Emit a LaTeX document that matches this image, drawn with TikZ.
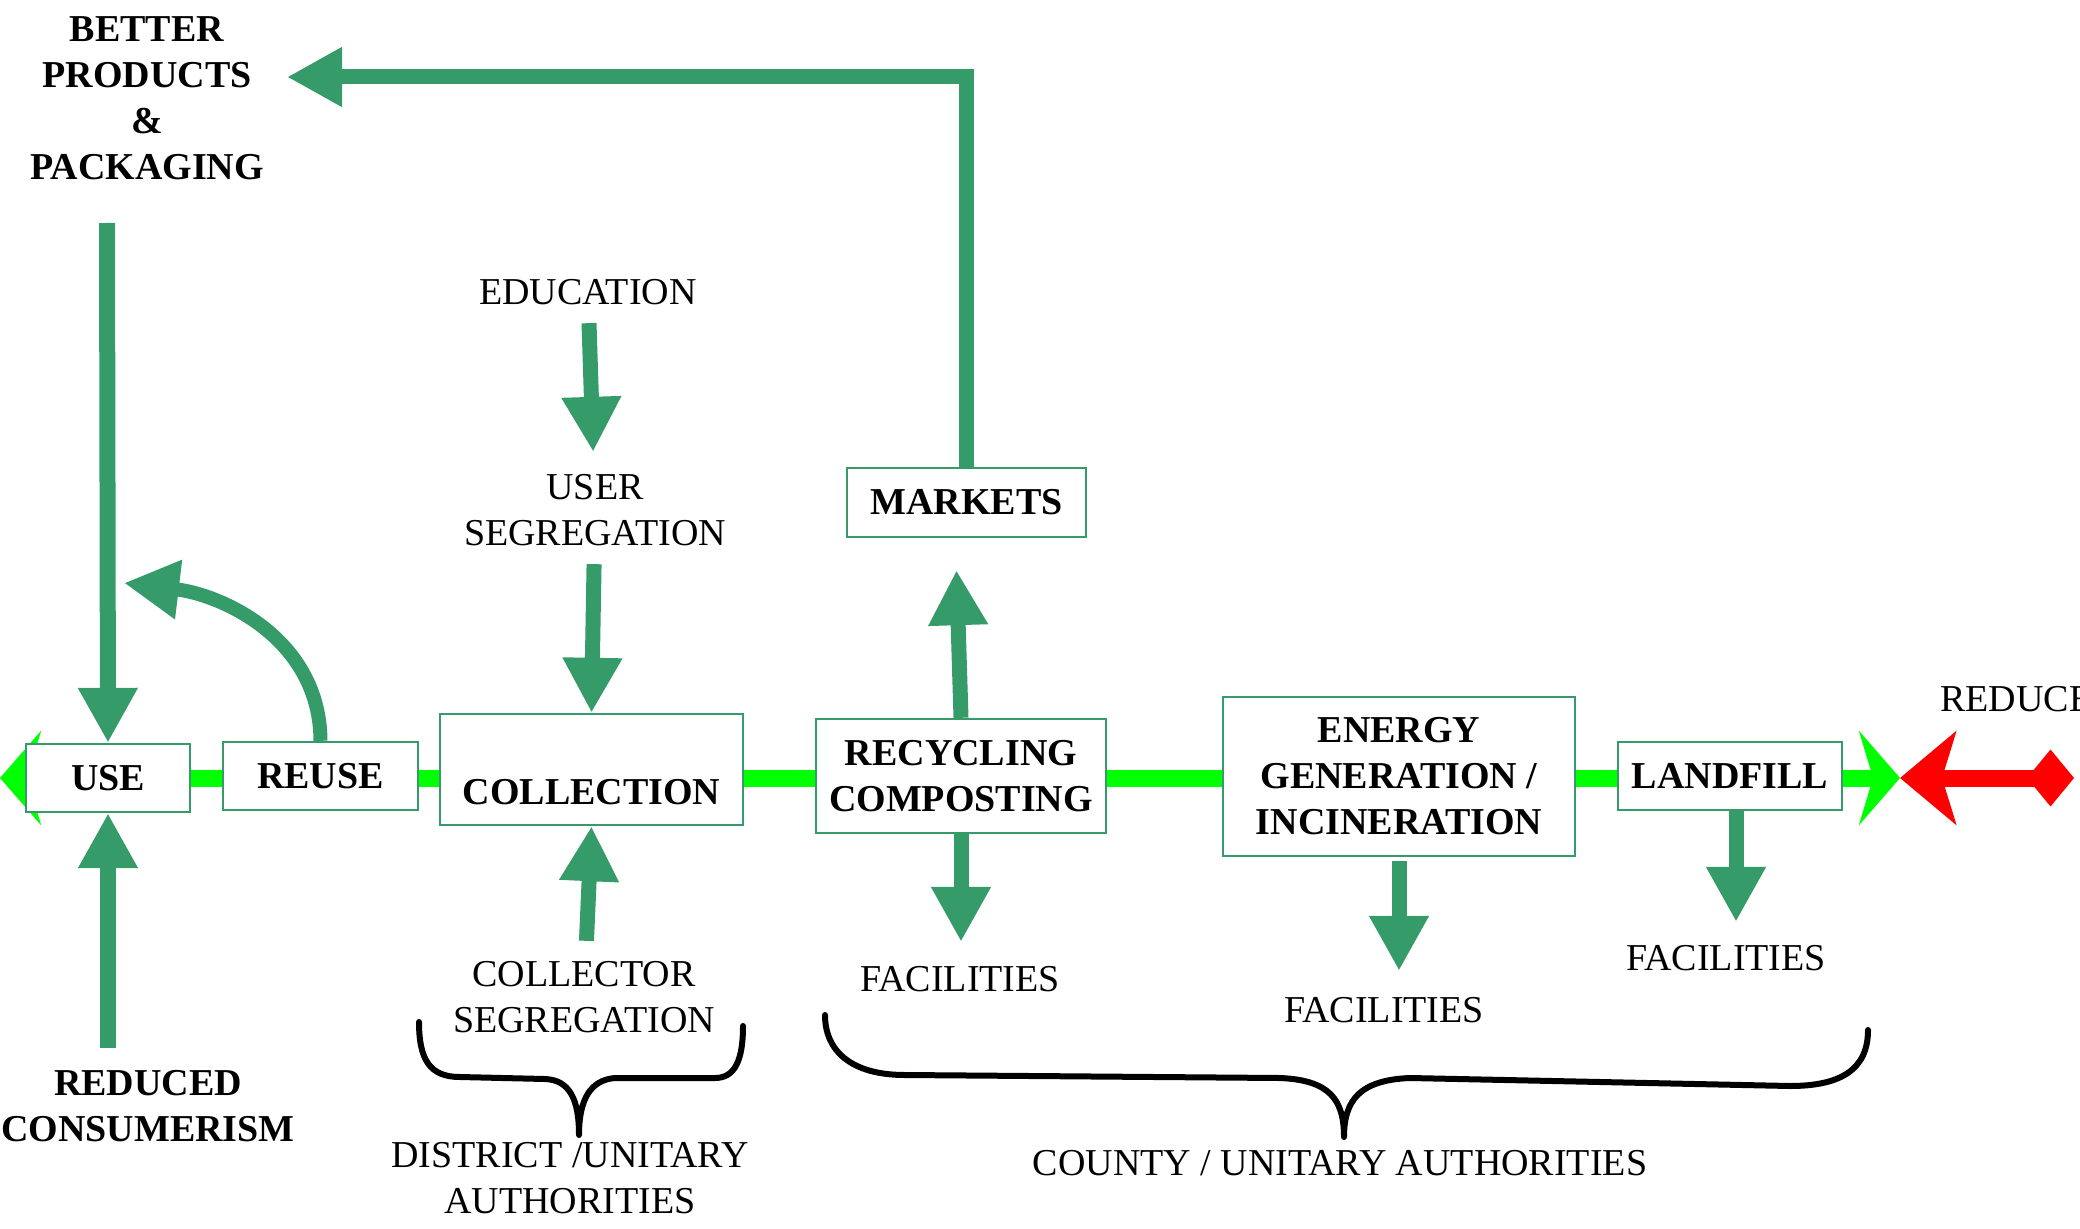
\documentclass[tikz,border=0pt]{standalone}
\usepackage{fontspec}
\setmainfont{Liberation Serif}
\usetikzlibrary{arrows.meta, positioning}
\definecolor{flowgreen}{RGB}{53,155,104}
\definecolor{pathgreen}{RGB}{0,255,0}
\definecolor{reducered}{RGB}{255,0,0}

\tikzset{
  stagebox/.style={draw=flowgreen, line width=1.2pt, fill=white, inner sep=0pt, align=center,
    font=\fontsize{19}{23}\selectfont\bfseries},
  plainlabel/.style={align=center, inner sep=0pt, font=\fontsize{19}{23}\selectfont},
  boldlabel/.style={align=center, inner sep=0pt, font=\fontsize{19}{23}\selectfont\bfseries},
  feedarrow/.style={draw=flowgreen, line width=7.5pt, -{Triangle[length=27.5pt, width=28pt]}},
  authbrace/.style={draw=black, line width=3pt, line cap=round, line join=round},
}

\begin{document}
\begin{tikzpicture}[x=0.5pt, y=-0.5pt]
  \useasboundingbox (0,0) rectangle (2080,1229);

  % main flow line, drawn first so the boxes sit on top of it
  \coordinate (flowstart) at (0,778);
  \coordinate (flowend) at (1900,778);
  \draw[pathgreen, line width=8.5pt,
    {Stealth[length=20.5pt, width=47pt, inset=7pt]}-{Stealth[length=20.5pt, width=47pt, inset=7pt]}]
    (flowstart) -- (flowend);

  % stages
  \node[stagebox, minimum width=82pt, minimum height=34pt] (use) at (108,778) {USE};
  \node[stagebox, minimum width=97.5pt, minimum height=34pt] (reuse) at (320.5,776) {REUSE};
  \node[stagebox, minimum width=151.5pt, text height=45.25pt, text depth=10.25pt] (coll) at (591.5,769.5) {COLLECTION};
  \node[stagebox, minimum width=145pt, minimum height=57pt] (recyc) at (961,776) {RECYCLING\\COMPOSTING};
  \node[stagebox, minimum width=119.5pt, minimum height=34.5pt] (markets) at (966.5,502.5) {MARKETS};
  \node[stagebox, minimum width=176pt, minimum height=79.5pt] (energy) at (1399,776.5) {ENERGY\\GENERATION /\\INCINERATION};
  \node[stagebox, minimum width=112pt, minimum height=34pt] (landfill) at (1730,776) {LANDFILL};

  % labels
  \node[boldlabel] (better) at (147,98.5) {BETTER\\PRODUCTS\\\&\\PACKAGING};
  \node[boldlabel] (consumer) at (148,1106) {REDUCED\\CONSUMERISM};
  \node[plainlabel] (edu) at (588,292) {EDUCATION};
  \node[plainlabel] (userseg) at (595,510) {USER\\SEGREGATION};
  \node[plainlabel] (collseg) at (584,997) {COLLECTOR\\SEGREGATION};
  \node[plainlabel] (district) at (570,1178) {DISTRICT /UNITARY\\AUTHORITIES};
  \node[plainlabel] (facrecyc) at (960,979) {FACILITIES};
  \node[plainlabel] (facenergy) at (1384,1010) {FACILITIES};
  \node[plainlabel] (faclandfill) at (1726,958) {FACILITIES};
  \node[plainlabel] (county) at (1340,1163) {COUNTY / UNITARY AUTHORITIES};
  \node[plainlabel, anchor=west] (reduce) at (1940,699) {REDUCE};

  % arrows into use
  \coordinate (usetop) at (107,223);
  \coordinate (usebottom) at (108,1048);
  \draw[feedarrow, line width=8pt] (usetop) -- (use.north);
  \draw[feedarrow, line width=8pt] (usebottom) -- (use.south);
  \coordinate (reusetip) at (124,583);
  \draw[feedarrow, line width=7pt] (reuse.north) .. controls (320,640) and (224,595) .. (reusetip);

  % segregation chain
  \draw[feedarrow, shorten <=9pt, shorten >=11pt] (edu) -- (userseg);
  \draw[feedarrow, shorten <=9pt] (userseg) -- (coll.north);
  \draw[feedarrow, shorten <=10pt] (collseg) -- (coll.south);

  % markets and the loop back to products
  \coordinate (bettertip) at (287,77);
  \draw[feedarrow, shorten >=16pt] (recyc.north) -- ([xshift=-5.5pt]markets.south);
  \draw[feedarrow] (markets.north) |- (bettertip);

  % facilities
  \draw[feedarrow, shorten >=12pt] (recyc.south) -- (recyc.south |- facrecyc.north);
  \draw[feedarrow, shorten <=2pt, shorten >=13pt] (energy.south) -- (energy.south |- facenergy.north);
  \draw[feedarrow, shorten >=11.5pt] ([xshift=3pt]landfill.south) -- ([xshift=3pt]landfill.south |- faclandfill.north);

  % reduce
  \coordinate (reducetip) at (1900,778);
  \coordinate (reduceend) at (2074,778);
  \draw[reducered, line width=8.5pt,
    {Stealth[length=28pt, width=46.5pt, inset=7pt]}-{Kite[length=23.5pt, width=28.5pt, inset=11.75pt]}]
    (reducetip) -- (reduceend);

  % braces
  \draw[authbrace] (419,1022) .. controls (419,1060) and (430,1077) .. (460,1077) -- (545,1079)
    .. controls (570,1080) and (579,1100) .. (579,1135)
    .. controls (579,1100) and (590,1080) .. (615,1078) -- (715,1078)
    .. controls (735,1078) and (743,1060) .. (743,1026);
  \draw[authbrace] (825,1015) .. controls (825,1050) and (850,1075) .. (905,1075) -- (1280,1078)
    .. controls (1330,1080) and (1344,1100) .. (1344,1137)
    .. controls (1344,1100) and (1360,1080) .. (1410,1078) -- (1790,1086)
    .. controls (1840,1086) and (1868,1070) .. (1868,1030);
\end{tikzpicture}
\end{document}
